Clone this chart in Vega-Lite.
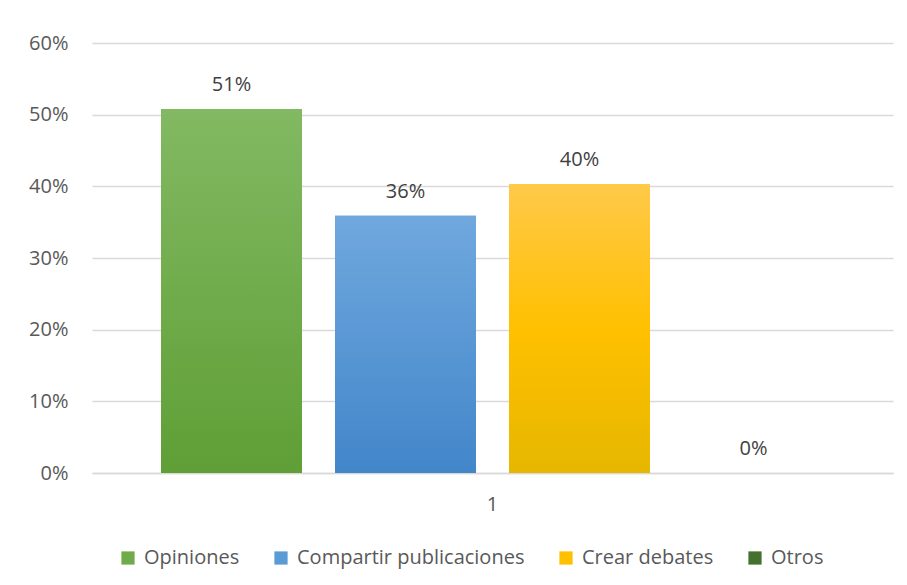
{
  "$schema": "https://vega.github.io/schema/vega-lite/v6.json",
  "width": 801,
  "height": 430,
  "autosize": {"type": "none"},
  "padding": {"left": 92, "top": 43, "right": 14, "bottom": 112},
  "background": "white",
  "config": {
    "view": {"stroke": null},
    "font": "Open Sans"
  },
  "data": {
    "values": [
      {"cat": "1", "serie": "Opiniones", "valor": 0.508},
      {"cat": "1", "serie": "Compartir publicaciones", "valor": 0.359},
      {"cat": "1", "serie": "Crear debates", "valor": 0.403},
      {"cat": "1", "serie": "Otros", "valor": 0.0}
    ]
  },
  "encoding": {
    "x": {
      "field": "cat", "type": "nominal",
      "scale": {"paddingInner": 0, "paddingOuter": 0},
      "axis": {
        "title": null, "labelAngle": 0, "ticks": false,
        "domainColor": "#d9d9d9", "domainWidth": 1.5,
        "labelFontSize": 20, "labelColor": "#595959", "labelPadding": 21,
        "labelFont": "Open Sans"
      }
    },
    "xOffset": {
      "field": "serie", "type": "nominal",
      "sort": ["Opiniones", "Compartir publicaciones", "Crear debates", "Otros"],
      "scale": {"domain": ["Opiniones", "Compartir publicaciones", "Crear debates", "Otros"], "paddingInner": 0.19, "paddingOuter": 0.397}
    },
    "y": {
      "field": "valor", "type": "quantitative",
      "scale": {"domain": [0, 0.6], "nice": false},
      "axis": {
        "title": null, "format": ".0%", "values": [0, 0.1, 0.2, 0.3, 0.4, 0.5, 0.6],
        "domain": false, "ticks": false, "gridColor": "#d9d9d9", "gridWidth": 1.5,
        "labelFontSize": 20, "labelColor": "#595959", "labelPadding": 24,
        "labelFont": "Open Sans"
      }
    }
  },
  "layer": [
    {
      "mark": {"type": "bar"},
      "encoding": {
        "color": {
          "field": "serie", "type": "nominal",
          "sort": ["Opiniones", "Compartir publicaciones", "Crear debates", "Otros"],
          "scale": {
            "domain": ["Opiniones", "Compartir publicaciones", "Crear debates", "Otros"],
            "range": ["#70ab4a", "#5b9bd5", "#ffc000", "#44722e"]
          },
          "legend": {
            "title": null, "orient": "none", "direction": "horizontal",
            "legendX": 26, "legendY": 505,
            "symbolType": "square", "symbolSize": 175, "symbolStrokeWidth": 0,
            "labelFontSize": 20, "labelColor": "#595959", "labelFont": "Open Sans",
            "labelOffset": 6, "columnPadding": 31, "padding": 0, "labelLimit": 400
          }
        }
      }
    },
    {
      "transform": [{"filter": "datum.serie === 'Opiniones'"}],
      "mark": {"type": "bar", "color": {"gradient": "linear", "x1": 0, "y1": 0, "x2": 0, "y2": 1, "stops": [{"offset": 0, "color": "#82b962"}, {"offset": 1, "color": "#5f9f36"}]}}
    },
    {
      "transform": [{"filter": "datum.serie === 'Compartir publicaciones'"}],
      "mark": {"type": "bar", "color": {"gradient": "linear", "x1": 0, "y1": 0, "x2": 0, "y2": 1, "stops": [{"offset": 0, "color": "#70a8de"}, {"offset": 1, "color": "#4286ca"}]}}
    },
    {
      "transform": [{"filter": "datum.serie === 'Crear debates'"}],
      "mark": {"type": "bar", "color": {"gradient": "linear", "x1": 0, "y1": 0, "x2": 0, "y2": 1, "stops": [{"offset": 0, "color": "#ffc94a"}, {"offset": 0.5, "color": "#ffc000"}, {"offset": 1, "color": "#e6b700"}]}}
    },
    {
      "mark": {"type": "text", "baseline": "alphabetic", "dy": -18, "fontSize": 20, "color": "#404040", "font": "Open Sans"},
      "encoding": {
        "text": {"field": "valor", "type": "quantitative", "format": ".0%"}
      }
    }
  ]
}
